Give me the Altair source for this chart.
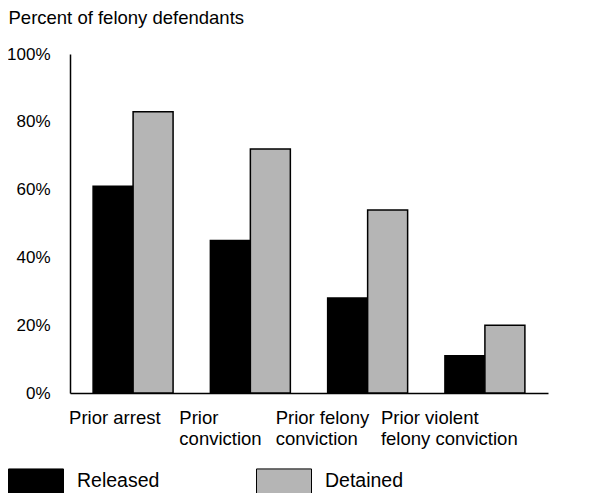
import altair as alt
import pandas as pd

categories = ["Prior arrest", "Prior\nconviction", "Prior felony\nconviction", "Prior violent\nfelony conviction"]
groups = ["Released", "Detained"]
released = [61, 45, 28, 11]
detained = [83, 72, 54, 20]
y_ticks = [0, 20, 40, 60, 80, 100]

rows = []
for c, r, d in zip(categories, released, detained):
    rows.append({"category": c, "group": "Released", "value": r})
    rows.append({"category": c, "group": "Detained", "value": d})
df = pd.DataFrame(rows)

FONT = "Liberation Sans"

label_offset = {
    "condition": [
        {"test": "datum.index < 0.1", "value": -64},
        {"test": "datum.index < 0.5", "value": -71},
        {"test": "datum.index < 0.9", "value": -92},
    ],
    "value": -104,
}

chart = alt.Chart(df).mark_bar(stroke="black", strokeWidth=1.5).encode(
    x=alt.X(
        "category:N",
        sort=categories,
        scale=alt.Scale(paddingInner=0.318, paddingOuter=0.197),
        axis=alt.Axis(
            title=None,
            labelAngle=0,
            labelAlign="left",
            labelBaseline="top",
            labelOffset=label_offset,
            labelPadding=15,
            labelFontSize=18.5,
            labelLineHeight=21,
            labelExpr="split(datum.label, '\\n')",
            labelColor="black",
            labelFont=FONT,
            ticks=False,
            domainColor="black",
            domainWidth=1.5,
            grid=False,
        ),
    ),
    xOffset=alt.XOffset("group:N", sort=groups),
    y=alt.Y(
        "value:Q",
        scale=alt.Scale(domain=[0, 100]),
        axis=alt.Axis(
            title="Percent of felony defendants",
            titleAngle=0,
            titleAlign="left",
            titleBaseline="alphabetic",
            titleX=-62,
            titleY=-31,
            titleFontSize=18.5,
            titleFontWeight="normal",
            titleFont=FONT,
            titleColor="black",
            values=y_ticks,
            labelExpr="datum.value + '%'",
            labelFontSize=17,
            labelFont=FONT,
            labelColor="black",
            labelPadding=20,
            ticks=False,
            domainColor="black",
            domainWidth=1.5,
            grid=False,
        ),
    ),
    color=alt.Color(
        "group:N",
        sort=groups,
        scale=alt.Scale(domain=groups, range=["#000000", "#b5b5b5"]),
        legend=alt.Legend(
            title=None,
            orient="none",
            legendX=-62,
            legendY=399,
            direction="horizontal",
            columns=2,
            columnPadding=94,
            symbolType="M-1,-0.45H1V0.45H-1Z",
            symbolSize=3025,
            symbolStrokeColor="black",
            symbolStrokeWidth=1,
            labelFontSize=19.5,
            labelFont=FONT,
            labelColor="black",
            labelOffset=13,
            padding=0,
        ),
    ),
).properties(
    width=478,
    height=339,
    autosize=alt.AutoSizeParams(type="none"),
    padding={"left": 62, "top": 46, "right": 50, "bottom": 100},
).configure_view(stroke=None)

chart.save("out.html", embed_options={"renderer": "svg", "actions": False})
